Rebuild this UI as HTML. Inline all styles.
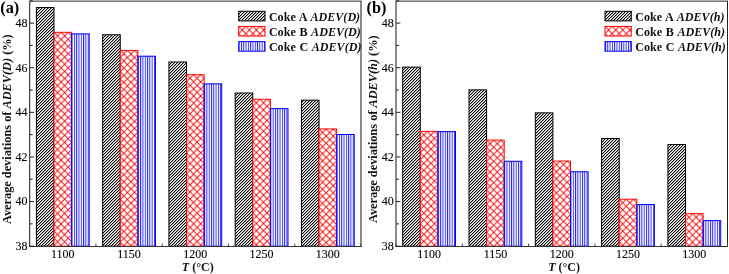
<!DOCTYPE html><html><head><meta charset="utf-8"><style>
html,body{margin:0;padding:0;background:#fff;width:729px;height:274px;overflow:hidden}
svg{display:block;filter:blur(0.3px)}
text{font-family:"Liberation Serif",serif}
</style></head><body>
<svg width="729" height="274" viewBox="0 0 729 274">
<defs>
<pattern id="pA" patternUnits="userSpaceOnUse" width="3" height="3"><rect width="3" height="3" fill="#fff"/><rect x="2" y="0" width="1" height="1" fill="#000"/><rect x="0" y="0" width="1" height="1" fill="#000" fill-opacity="0.35"/><rect x="1" y="1" width="1" height="1" fill="#000"/><rect x="2" y="1" width="1" height="1" fill="#000" fill-opacity="0.35"/><rect x="0" y="2" width="1" height="1" fill="#000"/><rect x="1" y="2" width="1" height="1" fill="#000" fill-opacity="0.35"/></pattern>
<pattern id="pB" patternUnits="userSpaceOnUse" width="7.1" height="7.1"><rect width="7.1" height="7.1" fill="#fff"/><path d="M0,0 L7.1,7.1 M7.1,0 L0,7.1" stroke="#f00" stroke-width="0.9"/></pattern>
<pattern id="pC" patternUnits="userSpaceOnUse" width="2.3" height="10"><rect width="2.3" height="10" fill="#fff"/><rect x="0" y="0" width="0.95" height="10" fill="#22f"/></pattern>
</defs>
<rect width="729" height="274" fill="#fff"/>
<g transform="translate(36.00,8.00)"><rect x="0.40" y="-0.44" width="17.60" height="238.64" fill="url(#pA)"/></g>
<rect x="36.40" y="7.56" width="17.60" height="238.64" fill="none" stroke="#000" stroke-width="1"/>
<g transform="translate(54.00,32.32)"><rect x="0.00" y="0.00" width="17.60" height="213.88" fill="url(#pB)"/></g>
<rect x="54.00" y="32.32" width="17.60" height="213.88" fill="none" stroke="#f00" stroke-width="1"/>
<g transform="translate(71.60,33.89)"><rect x="0.00" y="0.00" width="17.60" height="212.31" fill="url(#pC)"/></g>
<rect x="71.60" y="33.89" width="17.60" height="212.31" fill="none" stroke="#00f" stroke-width="1"/>
<g transform="translate(103.00,35.00)"><rect x="-0.34" y="-0.22" width="17.60" height="211.42" fill="url(#pA)"/></g>
<rect x="102.66" y="34.78" width="17.60" height="211.42" fill="none" stroke="#000" stroke-width="1"/>
<g transform="translate(120.26,50.40)"><rect x="0.00" y="0.00" width="17.60" height="195.80" fill="url(#pB)"/></g>
<rect x="120.26" y="50.40" width="17.60" height="195.80" fill="none" stroke="#f00" stroke-width="1"/>
<g transform="translate(137.86,56.20)"><rect x="0.00" y="0.00" width="17.60" height="190.00" fill="url(#pC)"/></g>
<rect x="137.86" y="56.20" width="17.60" height="190.00" fill="none" stroke="#00f" stroke-width="1"/>
<g transform="translate(169.00,62.00)"><rect x="-0.08" y="-0.00" width="17.60" height="184.20" fill="url(#pA)"/></g>
<rect x="168.92" y="62.00" width="17.60" height="184.20" fill="none" stroke="#000" stroke-width="1"/>
<g transform="translate(186.52,74.71)"><rect x="0.00" y="0.00" width="17.60" height="171.49" fill="url(#pB)"/></g>
<rect x="186.52" y="74.71" width="17.60" height="171.49" fill="none" stroke="#f00" stroke-width="1"/>
<g transform="translate(204.12,83.86)"><rect x="0.00" y="0.00" width="17.60" height="162.34" fill="url(#pC)"/></g>
<rect x="204.12" y="83.86" width="17.60" height="162.34" fill="none" stroke="#00f" stroke-width="1"/>
<g transform="translate(235.00,93.00)"><rect x="0.18" y="0.01" width="17.60" height="153.19" fill="url(#pA)"/></g>
<rect x="235.18" y="93.01" width="17.60" height="153.19" fill="none" stroke="#000" stroke-width="1"/>
<g transform="translate(252.78,99.25)"><rect x="0.00" y="0.00" width="17.60" height="146.95" fill="url(#pB)"/></g>
<rect x="252.78" y="99.25" width="17.60" height="146.95" fill="none" stroke="#f00" stroke-width="1"/>
<g transform="translate(270.38,108.62)"><rect x="0.00" y="0.00" width="17.60" height="137.58" fill="url(#pC)"/></g>
<rect x="270.38" y="108.62" width="17.60" height="137.58" fill="none" stroke="#00f" stroke-width="1"/>
<g transform="translate(301.00,100.00)"><rect x="0.44" y="0.15" width="17.60" height="146.05" fill="url(#pA)"/></g>
<rect x="301.44" y="100.15" width="17.60" height="146.05" fill="none" stroke="#000" stroke-width="1"/>
<g transform="translate(319.04,128.93)"><rect x="0.00" y="0.00" width="17.60" height="117.27" fill="url(#pB)"/></g>
<rect x="319.04" y="128.93" width="17.60" height="117.27" fill="none" stroke="#f00" stroke-width="1"/>
<g transform="translate(336.64,134.50)"><rect x="0.00" y="0.00" width="17.60" height="111.70" fill="url(#pC)"/></g>
<rect x="336.64" y="134.50" width="17.60" height="111.70" fill="none" stroke="#00f" stroke-width="1"/>
<line x1="29.20" y1="1.14" x2="361.50" y2="1.14" stroke="#111" stroke-width="0.9"/>
<line x1="29.70" y1="1.14" x2="29.70" y2="247.00" stroke="#222" stroke-width="1.05"/>
<line x1="361.00" y1="1.14" x2="361.00" y2="247.00" stroke="#222" stroke-width="1.05"/>
<line x1="29.20" y1="246.50" x2="361.50" y2="246.50" stroke="#333" stroke-width="1"/>
<line x1="29.70" y1="246.20" x2="34.10" y2="246.20" stroke="#222" stroke-width="1"/>
<text x="27.50" y="250.10" font-size="12" text-anchor="end" fill="#000" stroke="#000" stroke-width="0.1">38</text>
<line x1="29.70" y1="223.89" x2="32.70" y2="223.89" stroke="#222" stroke-width="1"/>
<line x1="29.70" y1="201.58" x2="34.10" y2="201.58" stroke="#222" stroke-width="1"/>
<text x="27.50" y="205.48" font-size="12" text-anchor="end" fill="#000" stroke="#000" stroke-width="0.1">40</text>
<line x1="29.70" y1="179.27" x2="32.70" y2="179.27" stroke="#222" stroke-width="1"/>
<line x1="29.70" y1="156.96" x2="34.10" y2="156.96" stroke="#222" stroke-width="1"/>
<text x="27.50" y="160.86" font-size="12" text-anchor="end" fill="#000" stroke="#000" stroke-width="0.1">42</text>
<line x1="29.70" y1="134.65" x2="32.70" y2="134.65" stroke="#222" stroke-width="1"/>
<line x1="29.70" y1="112.34" x2="34.10" y2="112.34" stroke="#222" stroke-width="1"/>
<text x="27.50" y="116.24" font-size="12" text-anchor="end" fill="#000" stroke="#000" stroke-width="0.1">44</text>
<line x1="29.70" y1="90.03" x2="32.70" y2="90.03" stroke="#222" stroke-width="1"/>
<line x1="29.70" y1="67.72" x2="34.10" y2="67.72" stroke="#222" stroke-width="1"/>
<text x="27.50" y="71.62" font-size="12" text-anchor="end" fill="#000" stroke="#000" stroke-width="0.1">46</text>
<line x1="29.70" y1="45.41" x2="32.70" y2="45.41" stroke="#222" stroke-width="1"/>
<line x1="29.70" y1="23.10" x2="34.10" y2="23.10" stroke="#222" stroke-width="1"/>
<text x="27.50" y="27.00" font-size="12" text-anchor="end" fill="#000" stroke="#000" stroke-width="0.1">48</text>
<line x1="29.70" y1="0.79" x2="32.70" y2="0.79" stroke="#222" stroke-width="1"/>
<line x1="29.70" y1="246.20" x2="29.70" y2="243.60" stroke="#444" stroke-width="1"/>
<line x1="95.96" y1="246.20" x2="95.96" y2="243.60" stroke="#444" stroke-width="1"/>
<line x1="162.22" y1="246.20" x2="162.22" y2="243.60" stroke="#444" stroke-width="1"/>
<line x1="228.48" y1="246.20" x2="228.48" y2="243.60" stroke="#444" stroke-width="1"/>
<line x1="294.74" y1="246.20" x2="294.74" y2="243.60" stroke="#444" stroke-width="1"/>
<line x1="361.00" y1="246.20" x2="361.00" y2="243.60" stroke="#444" stroke-width="1"/>
<text x="62.83" y="258.30" font-size="12" text-anchor="middle" fill="#000" stroke="#000" stroke-width="0.1">1100</text>
<text x="129.09" y="258.30" font-size="12" text-anchor="middle" fill="#000" stroke="#000" stroke-width="0.1">1150</text>
<text x="195.35" y="258.30" font-size="12" text-anchor="middle" fill="#000" stroke="#000" stroke-width="0.1">1200</text>
<text x="261.61" y="258.30" font-size="12" text-anchor="middle" fill="#000" stroke="#000" stroke-width="0.1">1250</text>
<text x="327.87" y="258.30" font-size="12" text-anchor="middle" fill="#000" stroke="#000" stroke-width="0.1">1300</text>
<text x="197.75" y="271.30" font-size="12.0" font-weight="bold" text-anchor="middle" fill="#111"><tspan font-style="italic">T</tspan> (°C)</text>
<text transform="translate(10.90,129.20) rotate(-90)" font-size="12.3" font-weight="bold" text-anchor="middle" fill="#111"><tspan letter-spacing="0">Average deviations of </tspan><tspan font-style="italic" letter-spacing="0">ADEV(D)</tspan><tspan letter-spacing="0"> (%)</tspan></text>
<text x="0.30" y="12.70" font-size="16.3" font-weight="bold" fill="#000">(a)</text>
<g transform="translate(239.00,11.00)"><rect x="-0.30" y="0.30" width="26.30" height="9.60" fill="url(#pA)"/></g>
<rect x="238.70" y="11.30" width="26.30" height="9.60" fill="none" stroke="#000" stroke-width="1"/>
<text x="268.90" y="20.60" font-size="12.1" font-weight="bold" word-spacing="0.6" fill="#111">Coke A <tspan font-style="italic">ADEV(D)</tspan></text>
<g transform="translate(238.70,26.45)"><rect x="0.00" y="0.00" width="26.30" height="9.60" fill="url(#pB)"/></g>
<rect x="238.70" y="26.45" width="26.30" height="9.60" fill="none" stroke="#f00" stroke-width="1"/>
<text x="268.90" y="35.75" font-size="12.1" font-weight="bold" word-spacing="0.6" fill="#111">Coke B <tspan font-style="italic">ADEV(D)</tspan></text>
<g transform="translate(238.70,41.60)"><rect x="0.00" y="0.00" width="26.30" height="9.60" fill="url(#pC)"/></g>
<rect x="238.70" y="41.60" width="26.30" height="9.60" fill="none" stroke="#00f" stroke-width="1"/>
<text x="268.90" y="50.90" font-size="12.1" font-weight="bold" word-spacing="0.6" fill="#111">Coke C <tspan font-style="italic">ADEV(D)</tspan></text>
<g transform="translate(403.00,67.00)"><rect x="-0.30" y="0.13" width="17.60" height="179.07" fill="url(#pA)"/></g>
<rect x="402.70" y="67.13" width="17.60" height="179.07" fill="none" stroke="#000" stroke-width="1"/>
<g transform="translate(420.30,131.38)"><rect x="0.00" y="0.00" width="17.60" height="114.82" fill="url(#pB)"/></g>
<rect x="420.30" y="131.38" width="17.60" height="114.82" fill="none" stroke="#f00" stroke-width="1"/>
<g transform="translate(437.90,131.60)"><rect x="0.00" y="0.00" width="17.60" height="114.60" fill="url(#pC)"/></g>
<rect x="437.90" y="131.60" width="17.60" height="114.60" fill="none" stroke="#00f" stroke-width="1"/>
<g transform="translate(469.00,90.00)"><rect x="0.00" y="-0.12" width="17.60" height="156.32" fill="url(#pA)"/></g>
<rect x="469.00" y="89.88" width="17.60" height="156.32" fill="none" stroke="#000" stroke-width="1"/>
<g transform="translate(486.60,140.08)"><rect x="0.00" y="0.00" width="17.60" height="106.12" fill="url(#pB)"/></g>
<rect x="486.60" y="140.08" width="17.60" height="106.12" fill="none" stroke="#f00" stroke-width="1"/>
<g transform="translate(504.20,161.28)"><rect x="0.00" y="0.00" width="17.60" height="84.92" fill="url(#pC)"/></g>
<rect x="504.20" y="161.28" width="17.60" height="84.92" fill="none" stroke="#00f" stroke-width="1"/>
<g transform="translate(535.00,113.00)"><rect x="0.30" y="-0.14" width="17.60" height="133.34" fill="url(#pA)"/></g>
<rect x="535.30" y="112.86" width="17.60" height="133.34" fill="none" stroke="#000" stroke-width="1"/>
<g transform="translate(552.90,161.05)"><rect x="0.00" y="0.00" width="17.60" height="85.15" fill="url(#pB)"/></g>
<rect x="552.90" y="161.05" width="17.60" height="85.15" fill="none" stroke="#f00" stroke-width="1"/>
<g transform="translate(570.50,171.76)"><rect x="0.00" y="0.00" width="17.60" height="74.44" fill="url(#pC)"/></g>
<rect x="570.50" y="171.76" width="17.60" height="74.44" fill="none" stroke="#00f" stroke-width="1"/>
<g transform="translate(602.00,139.00)"><rect x="-0.40" y="-0.48" width="17.60" height="107.68" fill="url(#pA)"/></g>
<rect x="601.60" y="138.52" width="17.60" height="107.68" fill="none" stroke="#000" stroke-width="1"/>
<g transform="translate(619.20,199.20)"><rect x="0.00" y="0.00" width="17.60" height="47.00" fill="url(#pB)"/></g>
<rect x="619.20" y="199.20" width="17.60" height="47.00" fill="none" stroke="#f00" stroke-width="1"/>
<g transform="translate(636.80,204.56)"><rect x="0.00" y="0.00" width="17.60" height="41.64" fill="url(#pC)"/></g>
<rect x="636.80" y="204.56" width="17.60" height="41.64" fill="none" stroke="#00f" stroke-width="1"/>
<g transform="translate(668.00,145.00)"><rect x="-0.10" y="-0.46" width="17.60" height="101.66" fill="url(#pA)"/></g>
<rect x="667.90" y="144.54" width="17.60" height="101.66" fill="none" stroke="#000" stroke-width="1"/>
<g transform="translate(685.50,213.70)"><rect x="0.00" y="0.00" width="17.60" height="32.50" fill="url(#pB)"/></g>
<rect x="685.50" y="213.70" width="17.60" height="32.50" fill="none" stroke="#f00" stroke-width="1"/>
<g transform="translate(703.10,220.62)"><rect x="0.00" y="0.00" width="17.60" height="25.58" fill="url(#pC)"/></g>
<rect x="703.10" y="220.62" width="17.60" height="25.58" fill="none" stroke="#00f" stroke-width="1"/>
<line x1="395.50" y1="1.14" x2="728.00" y2="1.14" stroke="#111" stroke-width="0.9"/>
<line x1="396.00" y1="1.14" x2="396.00" y2="247.00" stroke="#222" stroke-width="1.05"/>
<line x1="727.50" y1="1.14" x2="727.50" y2="247.00" stroke="#222" stroke-width="1.05"/>
<line x1="395.50" y1="246.50" x2="728.00" y2="246.50" stroke="#333" stroke-width="1"/>
<line x1="396.00" y1="246.20" x2="400.40" y2="246.20" stroke="#222" stroke-width="1"/>
<text x="393.80" y="250.10" font-size="12" text-anchor="end" fill="#000" stroke="#000" stroke-width="0.1">38</text>
<line x1="396.00" y1="223.89" x2="399.00" y2="223.89" stroke="#222" stroke-width="1"/>
<line x1="396.00" y1="201.58" x2="400.40" y2="201.58" stroke="#222" stroke-width="1"/>
<text x="393.80" y="205.48" font-size="12" text-anchor="end" fill="#000" stroke="#000" stroke-width="0.1">40</text>
<line x1="396.00" y1="179.27" x2="399.00" y2="179.27" stroke="#222" stroke-width="1"/>
<line x1="396.00" y1="156.96" x2="400.40" y2="156.96" stroke="#222" stroke-width="1"/>
<text x="393.80" y="160.86" font-size="12" text-anchor="end" fill="#000" stroke="#000" stroke-width="0.1">42</text>
<line x1="396.00" y1="134.65" x2="399.00" y2="134.65" stroke="#222" stroke-width="1"/>
<line x1="396.00" y1="112.34" x2="400.40" y2="112.34" stroke="#222" stroke-width="1"/>
<text x="393.80" y="116.24" font-size="12" text-anchor="end" fill="#000" stroke="#000" stroke-width="0.1">44</text>
<line x1="396.00" y1="90.03" x2="399.00" y2="90.03" stroke="#222" stroke-width="1"/>
<line x1="396.00" y1="67.72" x2="400.40" y2="67.72" stroke="#222" stroke-width="1"/>
<text x="393.80" y="71.62" font-size="12" text-anchor="end" fill="#000" stroke="#000" stroke-width="0.1">46</text>
<line x1="396.00" y1="45.41" x2="399.00" y2="45.41" stroke="#222" stroke-width="1"/>
<line x1="396.00" y1="23.10" x2="400.40" y2="23.10" stroke="#222" stroke-width="1"/>
<text x="393.80" y="27.00" font-size="12" text-anchor="end" fill="#000" stroke="#000" stroke-width="0.1">48</text>
<line x1="396.00" y1="0.79" x2="399.00" y2="0.79" stroke="#222" stroke-width="1"/>
<line x1="396.00" y1="246.20" x2="396.00" y2="243.60" stroke="#444" stroke-width="1"/>
<line x1="462.30" y1="246.20" x2="462.30" y2="243.60" stroke="#444" stroke-width="1"/>
<line x1="528.60" y1="246.20" x2="528.60" y2="243.60" stroke="#444" stroke-width="1"/>
<line x1="594.90" y1="246.20" x2="594.90" y2="243.60" stroke="#444" stroke-width="1"/>
<line x1="661.20" y1="246.20" x2="661.20" y2="243.60" stroke="#444" stroke-width="1"/>
<line x1="727.50" y1="246.20" x2="727.50" y2="243.60" stroke="#444" stroke-width="1"/>
<text x="429.15" y="258.30" font-size="12" text-anchor="middle" fill="#000" stroke="#000" stroke-width="0.1">1100</text>
<text x="495.45" y="258.30" font-size="12" text-anchor="middle" fill="#000" stroke="#000" stroke-width="0.1">1150</text>
<text x="561.75" y="258.30" font-size="12" text-anchor="middle" fill="#000" stroke="#000" stroke-width="0.1">1200</text>
<text x="628.05" y="258.30" font-size="12" text-anchor="middle" fill="#000" stroke="#000" stroke-width="0.1">1250</text>
<text x="694.35" y="258.30" font-size="12" text-anchor="middle" fill="#000" stroke="#000" stroke-width="0.1">1300</text>
<text x="564.15" y="271.30" font-size="12.0" font-weight="bold" text-anchor="middle" fill="#111"><tspan font-style="italic">T</tspan> (°C)</text>
<text transform="translate(377.20,129.20) rotate(-90)" font-size="12.3" font-weight="bold" text-anchor="middle" fill="#111"><tspan letter-spacing="0">Average deviations of </tspan><tspan font-style="italic" letter-spacing="0">ADEV(h)</tspan><tspan letter-spacing="0"> (%)</tspan></text>
<text x="366.60" y="12.70" font-size="16.3" font-weight="bold" fill="#000">(b)</text>
<g transform="translate(605.00,11.00)"><rect x="0.00" y="0.30" width="26.30" height="9.60" fill="url(#pA)"/></g>
<rect x="605.00" y="11.30" width="26.30" height="9.60" fill="none" stroke="#000" stroke-width="1"/>
<text x="635.20" y="20.60" font-size="12.1" font-weight="bold" word-spacing="0.6" fill="#111">Coke A <tspan font-style="italic">ADEV(h)</tspan></text>
<g transform="translate(605.00,26.45)"><rect x="0.00" y="0.00" width="26.30" height="9.60" fill="url(#pB)"/></g>
<rect x="605.00" y="26.45" width="26.30" height="9.60" fill="none" stroke="#f00" stroke-width="1"/>
<text x="635.20" y="35.75" font-size="12.1" font-weight="bold" word-spacing="0.6" fill="#111">Coke B <tspan font-style="italic">ADEV(h)</tspan></text>
<g transform="translate(605.00,41.60)"><rect x="0.00" y="0.00" width="26.30" height="9.60" fill="url(#pC)"/></g>
<rect x="605.00" y="41.60" width="26.30" height="9.60" fill="none" stroke="#00f" stroke-width="1"/>
<text x="635.20" y="50.90" font-size="12.1" font-weight="bold" word-spacing="0.6" fill="#111">Coke C <tspan font-style="italic">ADEV(h)</tspan></text>
</svg></body></html>
